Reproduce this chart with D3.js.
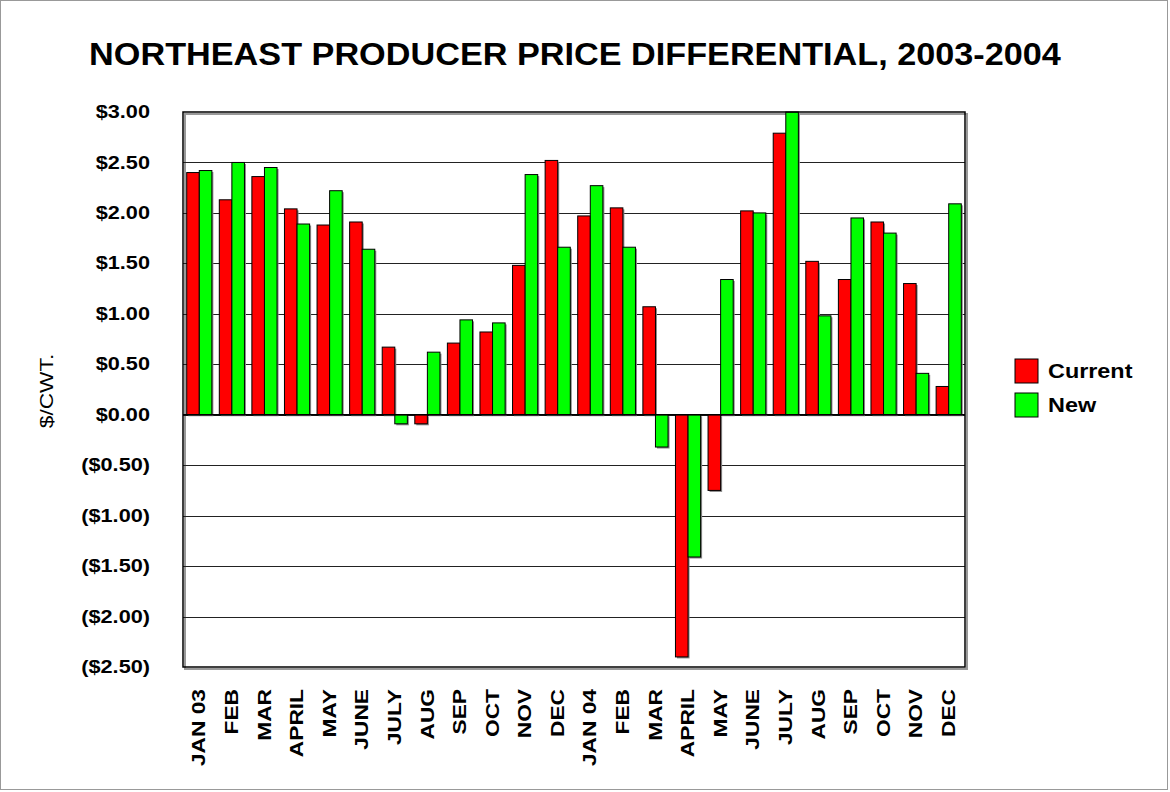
<!DOCTYPE html>
<html>
<head>
<meta charset="utf-8">
<script src="https://cdn.jsdelivr.net/npm/d3@7"></script>
<style>
  body { margin: 0; background: #fff; }
  text { font-family: "Liberation Sans", Arial, sans-serif; }
</style>
</head>
<body>
<script>
// Chart data.
const months = ["JAN 03", "FEB", "MAR", "APRIL", "MAY", "JUNE", "JULY", "AUG", "SEP", "OCT", "NOV", "DEC",
                "JAN 04", "FEB ", "MAR ", "APRIL ", "MAY ", "JUNE ", "JULY ", "AUG ", "SEP ", "OCT ", "NOV ", "DEC "];
const current = [2.40, 2.13, 2.36, 2.04, 1.88, 1.91, 0.67, -0.09, 0.71, 0.82, 1.48, 2.52,
                 1.97, 2.05, 1.07, -2.40, -0.75, 2.02, 2.79, 1.52, 1.34, 1.91, 1.30, 0.28];
const newer = [2.42, 2.50, 2.45, 1.89, 2.22, 1.64, -0.09, 0.62, 0.94, 0.91, 2.38, 1.66,
               2.27, 1.66, -0.32, -1.41, 1.34, 2.00, 3.00, 0.98, 1.95, 1.80, 0.41, 2.09];
const seriesNames = ["Current", "New"];
const seriesColors = ["#ff0000", "#00ff00"];
const yTicks = [3, 2.5, 2, 1.5, 1, 0.5, 0, -0.5, -1, -1.5, -2, -2.5];

const width = 1170, height = 792;
const plot = { left: 183, right: 965, top: 112, bottom: 667 };

const svg = d3.select("body").append("svg")
    .attr("width", width)
    .attr("height", height);

// outer frame
svg.append("rect")
    .attr("x", 0.5).attr("y", 0.5)
    .attr("width", width - 3).attr("height", height - 3)
    .attr("fill", "#fff").attr("stroke", "#999");

// Scales
const x = d3.scaleBand().domain(months).range([plot.left, plot.right]).padding(0);
const y = d3.scaleLinear().domain([-2.5, 3]).range([plot.bottom, plot.top]);

const fmt = v => {
    const s = "$" + Math.abs(v).toFixed(2);
    return v < 0 ? "(" + s + ")" : s;
};

// plot area shadow + border
svg.append("rect")
    .attr("x", plot.left + 2).attr("y", plot.top + 2)
    .attr("width", plot.right - plot.left).attr("height", plot.bottom - plot.top)
    .attr("fill", "none").attr("stroke", "#999").attr("stroke-width", 2);

// Gridlines
svg.append("g").selectAll("line")
    .data(yTicks.filter(d => d !== 3 && d !== -2.5))
    .enter().append("line")
    .attr("x1", plot.left).attr("x2", plot.right)
    .attr("y1", d => Math.round(y(d)) + 0.5).attr("y2", d => Math.round(y(d)) + 0.5)
    .attr("stroke", "#222").attr("stroke-width", 1.2);

// Bars
const inner = x.bandwidth() * 0.386;
const offset = (x.bandwidth() - inner * 2) / 2;
const rows = months.map((m, i) => ({ m, vals: [current[i], newer[i]] }));

const group = svg.append("g").selectAll("g")
    .data(rows)
    .enter().append("g")
    .attr("transform", d => `translate(${x(d.m) + offset},0)`);

group.selectAll("rect.shadow")
    .data(d => d.vals)
    .enter().append("rect")
    .attr("class", "shadow")
    .attr("x", (d, i) => i * inner + 1.5)
    .attr("y", d => Math.min(y(d), y(0)) + 1.5)
    .attr("width", inner)
    .attr("height", d => Math.abs(y(d) - y(0)))
    .attr("fill", "#888");

group.selectAll("rect.bar")
    .data(d => d.vals)
    .enter().append("rect")
    .attr("class", "bar")
    .attr("x", (d, i) => i * inner)
    .attr("y", d => Math.min(y(d), y(0)))
    .attr("width", inner)
    .attr("height", d => Math.abs(y(d) - y(0)))
    .attr("fill", (d, i) => seriesColors[i])
    .attr("stroke", "#000")
    .attr("stroke-width", 1);

// zero line
svg.append("line")
    .attr("x1", plot.left).attr("x2", plot.right)
    .attr("y1", y(0)).attr("y2", y(0))
    .attr("stroke", "#000").attr("stroke-width", 1.5);

// plot border
svg.append("rect")
    .attr("x", plot.left).attr("y", plot.top)
    .attr("width", plot.right - plot.left).attr("height", plot.bottom - plot.top)
    .attr("fill", "none").attr("stroke", "#000").attr("stroke-width", 1.5);

// Y axis labels (the source font runs wider than Arial, so stretch a bit)
svg.append("g").selectAll("text")
    .data(yTicks)
    .enter().append("text")
    .attr("transform", d => `translate(150,${y(d)}) scale(1.24,1)`)
    .attr("dy", "0.35em")
    .attr("text-anchor", "end")
    .attr("font-size", 17.5)
    .attr("font-weight", "bold")
    .text(fmt);

svg.append("text")
    .attr("transform", "translate(53,391) rotate(-90) scale(1.3,1)")
    .attr("text-anchor", "middle")
    .attr("font-size", 17.5)
    .text("$/CWT.");

// X axis labels
svg.append("g").selectAll("text")
    .data(months)
    .enter().append("text")
    .attr("transform", d => `translate(${x(d) + x.bandwidth() / 2},689) rotate(-90) scale(1.3,1)`)
    .attr("dy", "0.35em")
    .attr("text-anchor", "end")
    .attr("font-size", 17.5)
    .attr("font-weight", "bold")
    .text(d => d.trim());

// Title
svg.append("text")
    .attr("transform", "translate(575,64.5) scale(1.07,1)")
    .attr("text-anchor", "middle")
    .attr("font-size", 32)
    .attr("font-weight", "bold")
    .text("NORTHEAST PRODUCER PRICE DIFFERENTIAL, 2003-2004");

// Legend
const legend = svg.append("g").selectAll("g")
    .data(seriesNames)
    .enter().append("g")
    .attr("transform", (d, i) => `translate(1015,${359 + i * 34})`);

legend.append("rect")
    .attr("width", 23).attr("height", 24)
    .attr("fill", (d, i) => seriesColors[i])
    .attr("stroke", "#000");

legend.append("text")
    .attr("transform", "translate(33,12) scale(1.2,1)")
    .attr("dy", "0.35em")
    .attr("font-size", 19.5)
    .attr("font-weight", "bold")
    .text(d => d);
</script>
</body>
</html>
